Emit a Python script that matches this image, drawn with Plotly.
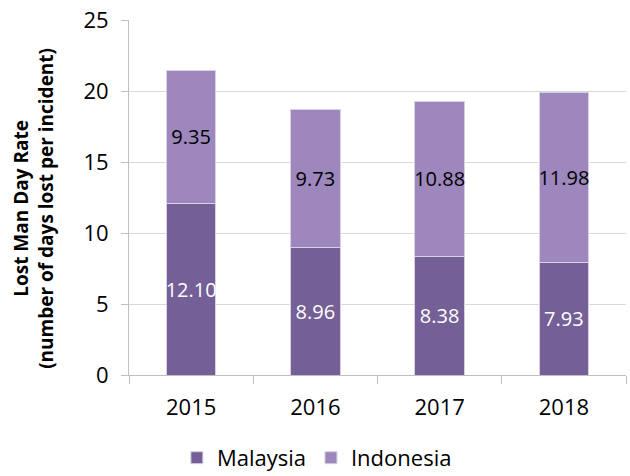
import plotly.graph_objects as go

years = ["2015", "2016", "2017", "2018"]
malaysia = [12.10, 8.96, 8.38, 7.93]
indonesia = [9.35, 9.73, 10.88, 11.98]
y_ticks = [0, 5, 10, 15, 20, 25]

c_my = "#745f96"
c_id = "#9d87bd"
font = "Open Sans"

fig = go.Figure()
fig.add_trace(go.Bar(
    x=years, y=malaysia, name="Malaysia",
    marker=dict(color=c_my, line=dict(color="#d8d0e4", width=1)),
    text=[f"{v:.2f}" for v in malaysia], textposition="inside",
    insidetextanchor="middle", constraintext="none", textangle=0,
    textfont=dict(color="white", size=20, family=font),
))
fig.add_trace(go.Bar(
    x=years, y=indonesia, name="Indonesia",
    marker=dict(color=c_id, line=dict(color="#d8d0e4", width=1)),
    text=[f"{v:.2f}" for v in indonesia], textposition="inside",
    insidetextanchor="middle", constraintext="none", textangle=0,
    textfont=dict(color="black", size=20, family=font),
))

fig.update_layout(
    barmode="stack",
    bargap=0.6,
    width=630, height=476,
    margin=dict(l=129, r=4, t=20, b=101, autoexpand=False),
    plot_bgcolor="white", paper_bgcolor="white",
    font=dict(family=font, size=22, color="black"),
    uniformtext=dict(mode=False),
    legend=dict(
        orientation="h", xref="container", x=0.503, xanchor="center",
        yref="container", y=0.038, yanchor="middle",
        font=dict(size=22), itemwidth=30, traceorder="normal",
    ),
    showlegend=True,
    annotations=[dict(
        text="<b>Lost Man Day Rate<br>(number of days lost per incident)</b>",
        textangle=-90, xref="paper", yref="paper", x=0, y=0.468,
        xanchor="center", yanchor="middle", xshift=-95, showarrow=False,
        font=dict(size=19, family=font, color="black"),
    )],
)
fig.update_xaxes(
    showline=True, linecolor="#bfbfbf", linewidth=1, automargin=False,
    ticks="outside", tickson="boundaries", ticklen=8, tickcolor="#bfbfbf",
    ticklabelstandoff=13,
    tickfont=dict(size=22),
)
fig.update_yaxes(
    range=[0, 25.02], tickvals=y_ticks, automargin=False,
    ticklabeloverflow="allow",
    showline=True, linecolor="#bfbfbf", linewidth=1,
    ticks="outside", ticklen=7, tickcolor="#bfbfbf",
    ticklabelstandoff=8,
    showgrid=True, gridcolor="#d9d9d9", gridwidth=1,
    zeroline=False,
    tickfont=dict(size=22),
)

fig.write_html("out.html", config={"displayModeBar": False},
               post_script="document.body.style.margin='0';")
